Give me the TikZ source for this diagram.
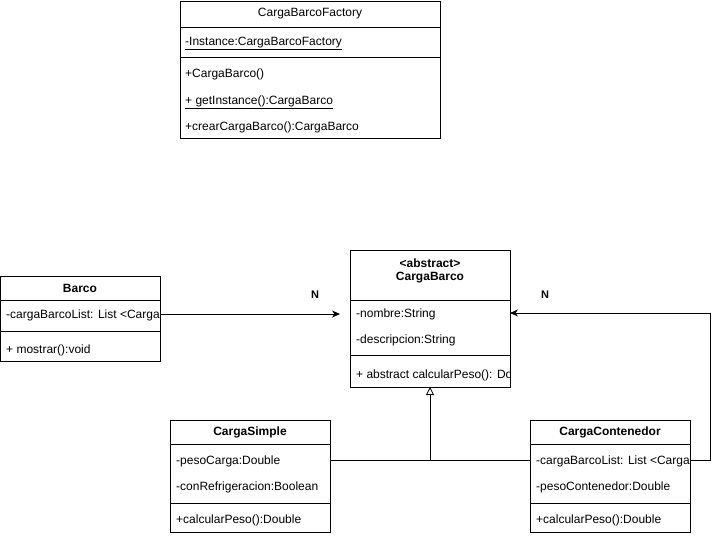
\documentclass[tikz,border=0pt]{standalone}
\usepackage{fontspec}
\setmainfont{Liberation Sans}
\usetikzlibrary{arrows.meta}
\tikzset{
  box/.style={draw, line width=0.8pt, anchor=north west, inner sep=0pt},
  sep/.style={line width=0.8pt},
  row/.style={anchor=base west, inner sep=0pt, font=\fontsize{12}{14}\selectfont},
  ttl/.style={anchor=center, inner sep=0pt, font=\fontsize{12}{14}\selectfont\bfseries, align=center},
  conn/.style={line width=0.8pt},
  assoc/.style={conn, -{Stealth[length=8pt, width=7pt, inset=2.5pt]}},
  inherit/.style={conn, -{Triangle[open, length=8pt, width=8pt]}},
  mult/.style={inner sep=0pt, font=\fontsize{11}{13}\selectfont\bfseries}
}
\begin{document}
\begin{tikzpicture}[x=1pt, y=-1pt]
\useasboundingbox (0,0) rectangle (719,536);

% CargaBarcoFactory
\node[box, minimum width=260pt, minimum height=137pt] (fac) at (180,1) {};
\draw[sep] (180,27) -- (440,27);
\draw[sep] (180,57) -- (440,57);
\node[ttl, font=\fontsize{12}{14}\selectfont] (facT) at (310,14) {CargaBarcoFactory};
\node[row] (facA) at (185,45) {\underline{-Instance:CargaBarcoFactory}};
\node[row] (facM1) at (185,77.5) {+CargaBarco()};
\node[row] (facM2) at (185,104) {\underline{+ getInstance():CargaBarco}};
\node[row] (facM3) at (185,130.5) {+crearCargaBarco():CargaBarco};

% Barco
\node[box, minimum width=160pt, minimum height=85pt] (barco) at (0,276) {};
\draw[sep] (0,300) -- (160,300);
\draw[sep] (0,331) -- (160,331);
\node[ttl] (barcoT) at (80,288.5) {Barco};
\begin{scope}
\clip (0,300) rectangle (159.5,331);
\node[row] (barcoA) at (6,318.5) {-cargaBarcoList: List <CargaBarco>};
\end{scope}
\node[row] (barcoM) at (6,353.5) {+ mostrar():void};

% CargaBarco
\node[box, minimum width=160pt, minimum height=137pt] (cb) at (350,250) {};
\draw[sep] (350,300) -- (510,300);
\draw[sep] (350,355) -- (510,355);
\node[ttl] (cbT) at (430,271) {<abstract>\\[-1pt]CargaBarco};
\node[row] (cbA1) at (356,317.5) {-nombre:String};
\node[row] (cbA2) at (356,343.5) {-descripcion:String};
\begin{scope}
\clip (350,355) rectangle (509.5,387);
\node[row] (cbM) at (356,378.5) {+ abstract calcularPeso(): Double};
\end{scope}

% CargaSimple
\node[box, minimum width=160pt, minimum height=112pt] (cs) at (170,420) {};
\draw[sep] (170,444) -- (330,444);
\draw[sep] (170,503) -- (330,503);
\node[ttl] (csT) at (250,432.5) {CargaSimple};
\node[row] (csA1) at (176,464.5) {-pesoCarga:Double};
\node[row] (csA2) at (176,490.5) {-conRefrigeracion:Boolean};
\node[row] (csM) at (176,523.5) {+calcularPeso():Double};

% CargaContenedor
\node[box, minimum width=160pt, minimum height=112pt] (cc) at (530,420) {};
\draw[sep] (530,444) -- (690,444);
\draw[sep] (530,503) -- (690,503);
\node[ttl] (ccT) at (610,432.5) {CargaContenedor};
\begin{scope}
\clip (530,444) rectangle (689.5,473);
\node[row] (ccA1) at (536,464.5) {-cargaBarcoList: List <CargaBarco>};
\end{scope}
\node[row] (ccA2) at (536,490.5) {-pesoContenedor:Double};
\node[row] (ccM) at (536,523.5) {+calcularPeso():Double};

% connectors
\coordinate (barcoOut) at (160,314);
\coordinate (cbIn) at (340,314);
\draw[assoc] (barcoOut) -- (cbIn);
\node[mult] (n1) at (315,295) {N};

\coordinate (ccOut) at (690,460);
\coordinate (cbIn2) at (510,313);
\draw[assoc] (ccOut) -- (710,460) |- (cbIn2);
\node[mult] (n2) at (545,295) {N};

\coordinate (csOut) at (330,460);
\coordinate (ccIn) at (530,460);
\coordinate (junc) at (430,460);
\coordinate (cbBot) at (430,387);
\draw[conn] (csOut) -- (ccIn);
\draw[inherit] (junc) -- (cbBot);
\end{tikzpicture}
\end{document}
